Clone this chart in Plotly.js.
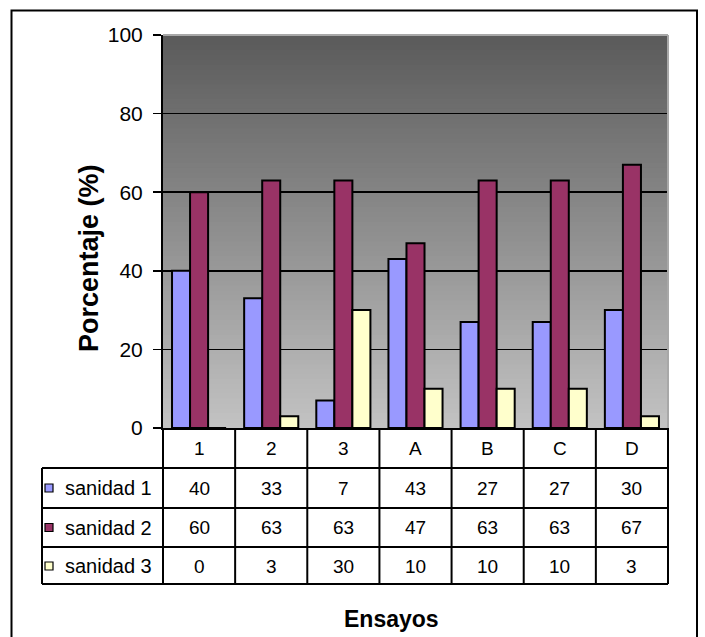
<!DOCTYPE html>
<html>
<head>
<meta charset="utf-8">
<script src="https://cdn.plot.ly/plotly-3.0.1.min.js"></script>
<style>html,body{margin:0;padding:0;background:#fff;}#chart{width:705px;height:637px;}</style>
</head>
<body>
<div id="chart"></div>
<script>
var categories = ['1', '2', '3', 'A', 'B', 'C', 'D'];
var seriesNames = ['sanidad 1', 'sanidad 2', 'sanidad 3'];
var sanidad1 = [40, 33, 7, 43, 27, 27, 30];
var sanidad2 = [60, 63, 63, 47, 63, 63, 67];
var sanidad3 = [0, 3, 30, 10, 10, 10, 3];
var yTicks = [0, 20, 40, 60, 80, 100];

var seriesValues = [sanidad1, sanidad2, sanidad3];
var colors = ['#9999ff', '#993366', '#ffffcc'];
var FONT = 'Arial, "Liberation Sans", sans-serif';

var W = 705, H = 637;
var L = 163, R = 668, T = 35, B = 428;
var pw = R - L, ph = B - T;
function px(x) { return (x - L) / pw; }
function py(y) { return (B - y) / ph; }

var traces = seriesValues.map(function (vals, i) {
  return {
    type: 'bar', name: seriesNames[i], x: categories, y: vals,
    marker: { color: colors[i], line: { color: '#000', width: 2 } },
    hoverinfo: 'x+y+name'
  };
});

var shapes = [];
// gradient background (overlapping bands, drawn bottom to top)
var N = 80;
for (var k = 0; k < N; k++) {
  var f = (k + 0.5) / N;
  var c = Math.round(195 - f * (195 - 90));
  shapes.push({ type: 'rect', xref: 'paper', yref: 'y', x0: 0, x1: 1,
    y0: 100 * k / N, y1: 100, layer: 'below',
    fillcolor: 'rgb(' + c + ',' + c + ',' + c + ')', line: { width: 0 } });
}
// plot area top & right border
shapes.push({ type: 'line', xref: 'paper', yref: 'paper', x0: 0, x1: 1, y0: 1, y1: 1, line: { color: '#a8a8a8', width: 2 } });
shapes.push({ type: 'line', xref: 'paper', yref: 'paper', x0: 1, x1: 1, y0: 0, y1: 1, line: { color: '#a8a8a8', width: 2 } });
// outer frame
shapes.push({ type: 'rect', xref: 'paper', yref: 'paper', x0: px(11.5), x1: px(697), y0: py(648), y1: py(10.5),
  line: { color: '#000', width: 2 }, fillcolor: 'rgba(0,0,0,0)' });

// data table lines
var rowLines = [468, 508, 547, 584];
rowLines.forEach(function (yy) {
  shapes.push({ type: 'line', xref: 'paper', yref: 'paper', x0: px(42), x1: 1, y0: py(yy), y1: py(yy), line: { color: '#000', width: 2 } });
});
for (var j = 0; j <= categories.length; j++) {
  shapes.push({ type: 'line', xref: 'paper', yref: 'paper', x0: j / categories.length, x1: j / categories.length,
    y0: py(428), y1: py(584), line: { color: '#000', width: 2 } });
}
shapes.push({ type: 'line', xref: 'paper', yref: 'paper', x0: px(42), x1: px(42), y0: py(468), y1: py(584), line: { color: '#000', width: 2 } });

var annotations = [];
var rowCenters = [488, 527.5, 566];
categories.forEach(function (cat, j) {
  annotations.push({ xref: 'x', yref: 'paper', x: j, y: py(448), text: cat, showarrow: false,
    xanchor: 'center', yanchor: 'middle', font: { family: FONT, size: 19, color: '#000' } });
});
seriesValues.forEach(function (vals, i) {
  vals.forEach(function (v, j) {
    annotations.push({ xref: 'x', yref: 'paper', x: j, y: py(rowCenters[i]), text: String(v), showarrow: false,
      xanchor: 'center', yanchor: 'middle', font: { family: FONT, size: 19, color: '#000' } });
  });
  annotations.push({ xref: 'paper', yref: 'paper', x: px(63), y: py(rowCenters[i]), xanchor: 'left', yanchor: 'middle',
    text: seriesNames[i], showarrow: false, font: { family: FONT, size: 20, color: '#000' } });
  shapes.push({ type: 'rect', xref: 'paper', yref: 'paper', x0: px(45), x1: px(53),
    y0: py(rowCenters[i] + 4), y1: py(rowCenters[i] - 4), fillcolor: colors[i], line: { color: '#000', width: 1.2 } });
});
annotations.push({ xref: 'paper', yref: 'paper', x: px(391), y: py(619), text: '<b>Ensayos</b>', showarrow: false,
  xanchor: 'center', yanchor: 'middle', font: { family: FONT, size: 23, color: '#000' } });
annotations.push({ xref: 'paper', yref: 'paper', x: px(89), y: py(258), text: '<b>Porcentaje (%)</b>', textangle: -90, showarrow: false,
  xanchor: 'center', yanchor: 'middle', font: { family: FONT, size: 27, color: '#000' } });

var layout = {
  width: W, height: H,
  margin: { l: L, r: W - R, t: T, b: H - B, pad: 0 },
  paper_bgcolor: '#fff', plot_bgcolor: 'rgba(0,0,0,0)',
  barmode: 'group', bargap: 0.25, bargroupgap: 0,
  showlegend: false,
  xaxis: { type: 'category', showticklabels: false, ticks: '', showline: true, linecolor: '#000', linewidth: 2,
    showgrid: false, zeroline: false, fixedrange: true },
  yaxis: { range: [0, 100], tickvals: yTicks, ticks: 'outside', ticklen: 8, tickwidth: 1.5, tickcolor: '#000',
    showline: true, linecolor: '#000', linewidth: 2, showgrid: true, gridcolor: '#000', gridwidth: 1.5,
    zeroline: false, tickfont: { family: FONT, size: 21, color: '#000' }, ticklabelstandoff: 6, fixedrange: true },
  shapes: shapes,
  annotations: annotations
};

Plotly.newPlot('chart', traces, layout, { displayModeBar: false, staticPlot: true });
</script>
</body>
</html>
